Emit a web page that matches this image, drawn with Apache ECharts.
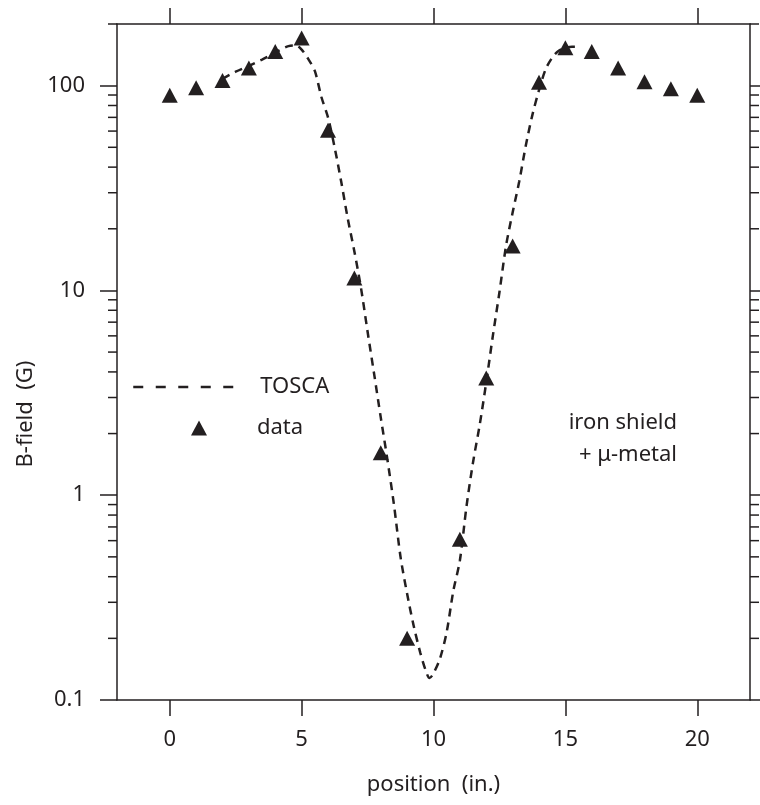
<!DOCTYPE html>
<html>
<head>
<meta charset="utf-8">
<script src="https://cdn.jsdelivr.net/npm/echarts@6/dist/echarts.min.js"></script>
<style>
  html, body { margin: 0; padding: 0; background: #fff; }
  #chart { width: 760px; height: 805px; }
</style>
</head>
<body>
<div id="chart"></div>
<script>
// Tick positions
const xTicks = [0, 5, 10, 15, 20];
const yTicks = [0.1, 1, 10, 100];
const yMinorTicks = [0.2, 0.3, 0.4, 0.5, 0.6, 0.7, 0.8, 0.9,
                     2, 3, 4, 5, 6, 7, 8, 9,
                     20, 30, 40, 50, 60, 70, 80, 90, 200];

// Measured field (triangles)
const dataPos = [0, 1, 2, 3, 4, 5, 6, 7, 8, 9, 11, 12, 13, 14, 15, 16, 17, 18, 19, 20];
const dataB   = [89.8, 97.7, 106, 122, 147, 171, 60.5, 11.5, 1.61, 0.20,
                 0.61, 3.74, 16.5, 104, 153, 147, 122, 104.5, 96.6, 89.8];

// TOSCA simulation (dashed curve)
const toscaPos = [2.0, 2.5, 3.0, 3.5, 4.0, 4.5, 4.8, 5.0, 5.25, 5.5, 5.75, 6.0, 6.25, 6.5, 6.75,
                  7.0, 7.25, 7.5, 7.75, 8.0, 8.25, 8.5, 8.75, 9.0, 9.25, 9.5, 9.7, 9.85, 10.0,
                  10.25, 10.5, 10.75, 11.0, 11.25, 11.5, 11.75, 12.0, 12.25, 12.5, 12.75, 13.0,
                  13.25, 13.5, 13.75, 14.0, 14.25, 14.5, 14.75, 15.0, 15.25, 15.5];
const toscaB   = [108, 117, 125, 134, 145, 156, 157, 150, 135, 118, 88, 70, 50, 34, 22.4,
                  15.5, 10.3, 6.3, 3.9, 2.4, 1.5, 0.9, 0.5, 0.33, 0.23, 0.17, 0.14, 0.128, 0.135,
                  0.16, 0.215, 0.34, 0.48, 0.88, 1.45, 2.2, 3.56, 6.0, 9.8, 16.5, 24,
                  34, 51, 72, 95, 120, 137, 148, 153, 155, 155];

const INK = '#231f20';
const FONT = 'Noto Sans';
const FS = 22;

const chart = echarts.init(document.getElementById('chart'), null, { renderer: 'canvas' });

const yAxisBase = {
  type: 'log',
  logBase: 10,
  min: 0.1,
  max: 200,
  splitLine: { show: false },
  axisLine: { show: true, onZero: false, lineStyle: { color: INK, width: 1.5 } },
  axisTick: { show: true, inside: false, length: 17, customValues: yTicks,
              lineStyle: { color: INK, width: 1.5 } }
};

const xAxisBase = {
  type: 'value',
  min: -2,
  max: 22,
  splitLine: { show: false },
  axisLine: { show: true, onZero: false, lineStyle: { color: INK, width: 1.5 } },
  axisTick: { show: true, inside: false, length: 16, customValues: xTicks,
              lineStyle: { color: INK, width: 1.5 } }
};

chart.setOption({
  animation: false,
  backgroundColor: '#fff',
  textStyle: { fontFamily: FONT, color: INK },
  grid: { left: 117, right: 10, top: 24, bottom: 105, containLabel: false },
  xAxis: [
    Object.assign({}, xAxisBase, {
      position: 'bottom',
      name: 'position  (in.)',
      nameLocation: 'middle',
      nameGap: 74,
      nameTextStyle: { fontSize: FS, color: INK, fontFamily: FONT },
      axisLabel: { show: true, customValues: xTicks, margin: 29,
                   fontSize: FS, color: INK, fontFamily: FONT }
    }),
    Object.assign({}, xAxisBase, {
      position: 'top',
      axisLabel: { show: false }
    })
  ],
  yAxis: [
    Object.assign({}, yAxisBase, {
      position: 'left',
      name: 'B-field  (G)',
      nameLocation: 'middle',
      nameGap: 76,
      nameTextStyle: { fontSize: FS, color: INK, fontFamily: FONT, padding: [0, 104, 0, 0] },
      axisLabel: { show: true, customValues: yTicks, margin: 32,
                   fontSize: FS, color: INK, fontFamily: FONT,
                   formatter: v => String(v) }
    }),
    Object.assign({}, yAxisBase, {
      position: 'right',
      axisLabel: { show: false }
    })
  ],
  legend: [
    {
      data: ['TOSCA'],
      left: 127,
      top: 371,
      itemWidth: 100,
      itemHeight: 14,
      itemStyle: { opacity: 0 },
      lineStyle: { type: [10, 12.5], width: 2.5, color: INK, opacity: 1 },
      textStyle: { fontSize: FS, color: INK, fontFamily: FONT, padding: [0, 0, 0, 22] },
      selectedMode: false
    },
    {
      data: ['data'],
      left: 186,
      top: 412,
      itemWidth: 16,
      itemHeight: 15,
      itemStyle: { color: INK },
      textStyle: { fontSize: FS, color: INK, fontFamily: FONT, padding: [0, 0, 0, 45] },
      selectedMode: false
    }
  ],
  graphic: [
    {
      type: 'text',
      x: 677,
      y: 407,
      style: {
        text: 'iron shield\n+ \u03bc-metal',
        align: 'right',
        verticalAlign: 'top',
        lineHeight: 32,
        font: FS + 'px "' + FONT + '"',
        fill: INK
      }
    }
  ],
  series: [
    {
      name: 'TOSCA',
      type: 'line',
      data: toscaPos.map((x, i) => [x, toscaB[i]]),
      showSymbol: false,
      symbol: 'none',
      smooth: 0.3,
      itemStyle: { color: INK },
      lineStyle: { color: INK, width: 2.5, type: [8, 6] },
      z: 3
    },
    {
      name: 'data',
      type: 'scatter',
      data: dataPos.map((x, i) => [x, dataB[i]]),
      symbol: 'triangle',
      symbolSize: [16, 15],
      itemStyle: { color: INK, opacity: 1 },
      z: 4
    },
    {
      // minor log ticks on both vertical axes
      type: 'custom',
      silent: true,
      clip: false,
      data: yMinorTicks.map(v => [0, v]),
      renderItem: function (params, api) {
        const y = api.coord([0, api.value(1)])[1];
        const cs = params.coordSys;
        const style = { stroke: INK, lineWidth: 1.5 };
        return {
          type: 'group',
          children: [
            { type: 'line', shape: { x1: cs.x - 9, y1: y, x2: cs.x, y2: y }, style: style },
            { type: 'line', shape: { x1: cs.x + cs.width, y1: y, x2: cs.x + cs.width + 9, y2: y }, style: style }
          ]
        };
      },
      z: 5
    }
  ]
});
</script>
</body>
</html>
